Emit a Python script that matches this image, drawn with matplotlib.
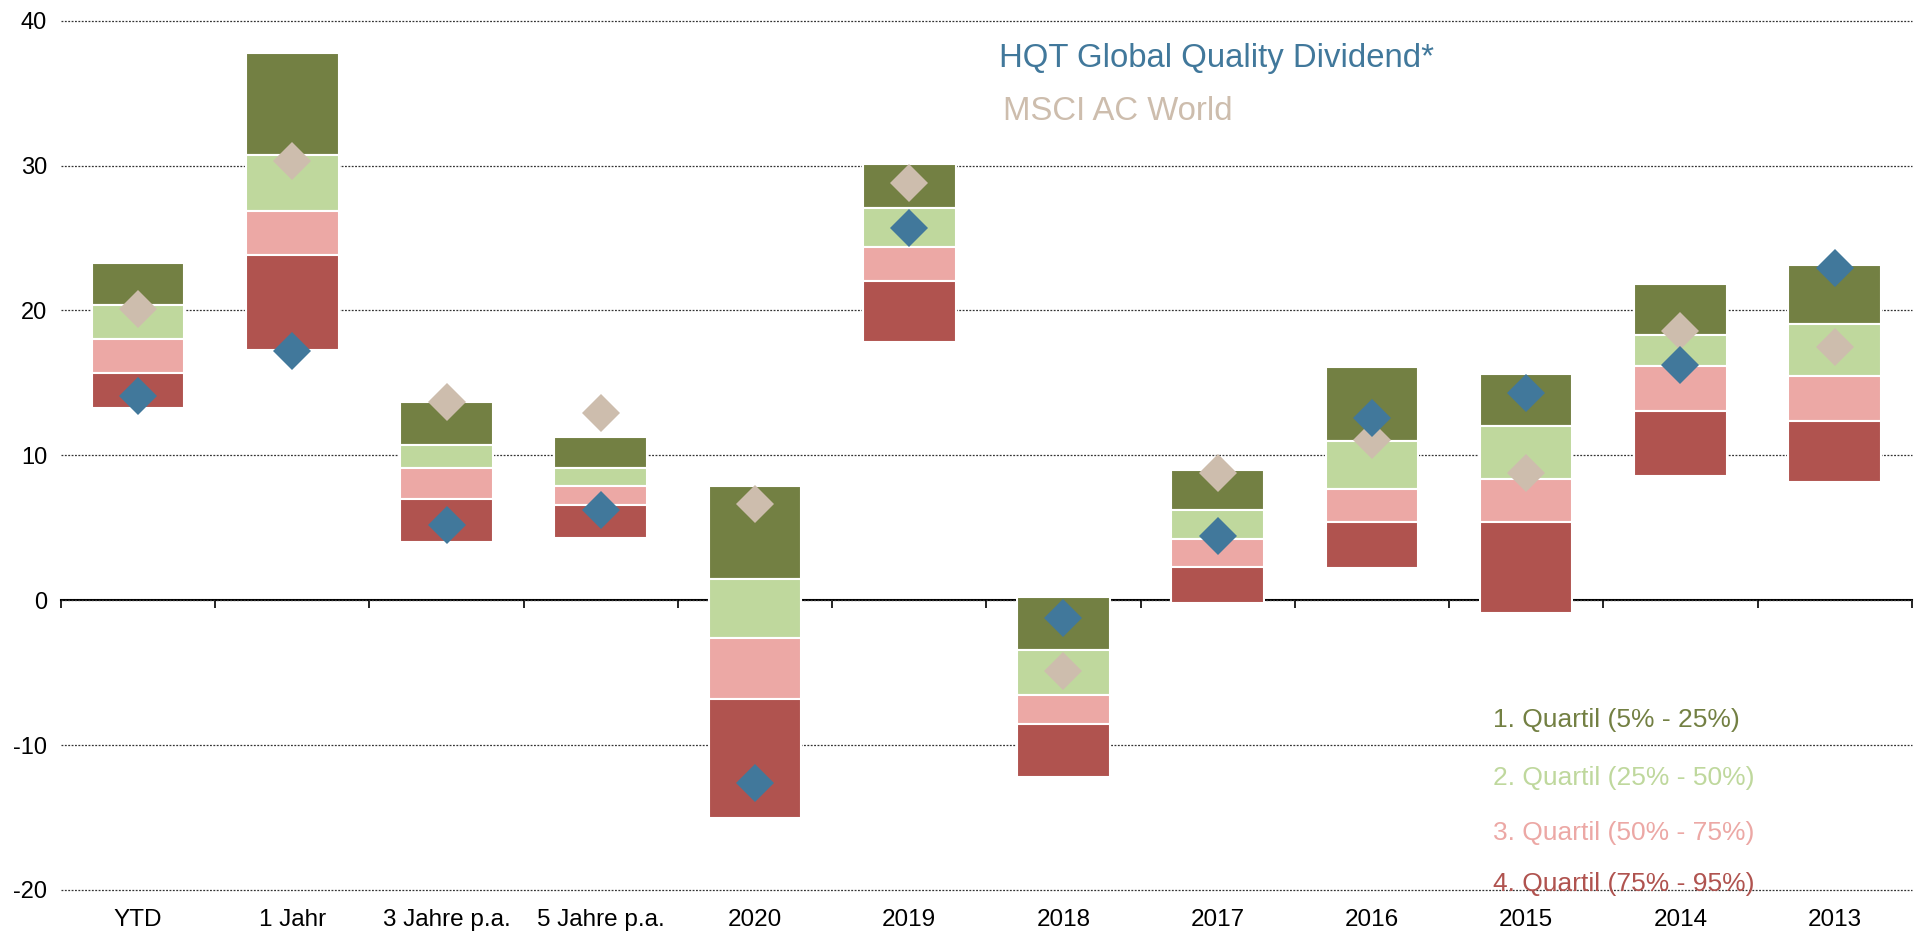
import matplotlib
matplotlib.use("Agg")
import matplotlib.pyplot as plt
import numpy as np

plt.rcParams['font.family'] = ['Liberation Sans', 'DejaVu Sans']

# categories on the x axis
categories = ['YTD', '1 Jahr', '3 Jahre p.a.', '5 Jahre p.a.', '2020', '2019',
              '2018', '2017', '2016', '2015', '2014', '2013']

# quartile boundaries (percent): top of 1st quartile (5%) down to bottom of 4th (95%)
q_05 = [23.3, 37.8, 13.7, 11.3, 7.9, 30.1, 0.25, 9.0, 16.1, 15.6, 21.8, 23.15]
q_25 = [20.4, 30.7, 10.7, 9.1, 1.45, 27.1, -3.45, 6.2, 11.0, 12.0, 18.3, 19.1]
q_50 = [18.0, 26.9, 9.1, 7.9, -2.6, 24.4, -6.55, 4.25, 7.7, 8.4, 16.2, 15.5]
q_75 = [15.7, 23.85, 7.0, 6.6, -6.8, 22.0, -8.55, 2.3, 5.4, 5.4, 13.05, 12.4]
q_95 = [13.3, 17.3, 4.0, 4.3, -15.0, 17.8, -12.2, -0.2, 2.25, -0.9, 8.6, 8.15]

# fund and benchmark returns
hqt = [14.1, 17.2, 5.2, 6.25, -12.6, 25.7, -1.2, 4.45, 12.6, 14.3, 16.25, 22.9]
msci = [20.1, 30.3, 13.7, 12.95, 6.65, 28.8, -4.9, 8.8, 11.05, 8.8, 18.6, 17.45]

quartile_labels = ['1. Quartil (5% - 25%)', '2. Quartil (25% - 50%)',
                   '3. Quartil (50% - 75%)', '4. Quartil (75% - 95%)']
quartile_colors = ['#738043', '#bfd89d', '#eca8a5', '#b0534f']
hqt_color = '#41789b'
msci_color = '#cdbdad'

fig = plt.figure(figsize=(19.16, 9.33), dpi=100)
ax = fig.add_axes([0.0318, 0.0461, 0.966, 0.9317])

x = np.arange(len(categories))
bounds = [np.array(q_05), np.array(q_25), np.array(q_50), np.array(q_75), np.array(q_95)]
for i in range(4):
    top = bounds[i]
    bottom = bounds[i + 1]
    ax.bar(x, top - bottom, bottom=bottom, width=0.6, color=quartile_colors[i],
           edgecolor='white', linewidth=1.5, zorder=2)

ax.plot(x, msci, linestyle='none', marker='D', markersize=19,
        color=msci_color, markeredgewidth=0, zorder=3)
ax.plot(x, hqt, linestyle='none', marker='D', markersize=19,
        color=hqt_color, markeredgewidth=0, zorder=4)

ax.set_xlim(-0.5, len(categories) - 0.5)
ax.set_ylim(-20, 40)
ax.set_yticks([-20, -10, 0, 10, 20, 30, 40])
ax.set_yticklabels(['-20', '-10', '0', '10', '20', '30', '40'])
ax.tick_params(axis='y', length=0, pad=10, labelsize=17)

ax.set_xticks(x)
ax.set_xticklabels(categories)
ax.tick_params(axis='x', length=0, pad=14, labelsize=17.5)

for s in ['top', 'right', 'left', 'bottom']:
    ax.spines[s].set_visible(False)

ax.set_axisbelow(True)
ax.yaxis.grid(True, linestyle=(0, (1.5, 1.2)), color='#333333', linewidth=0.9)
for gl in ax.get_ygridlines():
    gl.set_clip_on(False)

# zero line with tick marks between categories
sec = ax.secondary_xaxis(0, transform=ax.transData)
sec.set_xticks(np.arange(len(categories) + 1) - 0.5)
sec.set_xticklabels([])
sec.tick_params(length=6, width=1.2, direction='out', color='black')
sec.spines['bottom'].set_linewidth(1.5)

ax.text(0.507, 0.956, 'HQT Global Quality Dividend*', transform=ax.transAxes,
        color=hqt_color, fontsize=23.7, va='center', ha='left')
ax.text(0.509, 0.895, 'MSCI AC World', transform=ax.transAxes,
        color=msci_color, fontsize=23.7, va='center', ha='left')

q_y = [0.196, 0.129, 0.066, 0.007]
for lbl, col, yy in zip(quartile_labels, quartile_colors, q_y):
    ax.text(0.774, yy, lbl, transform=ax.transAxes, color=col, fontsize=19,
            va='center', ha='left')

fig.savefig('out.png', dpi=100)
